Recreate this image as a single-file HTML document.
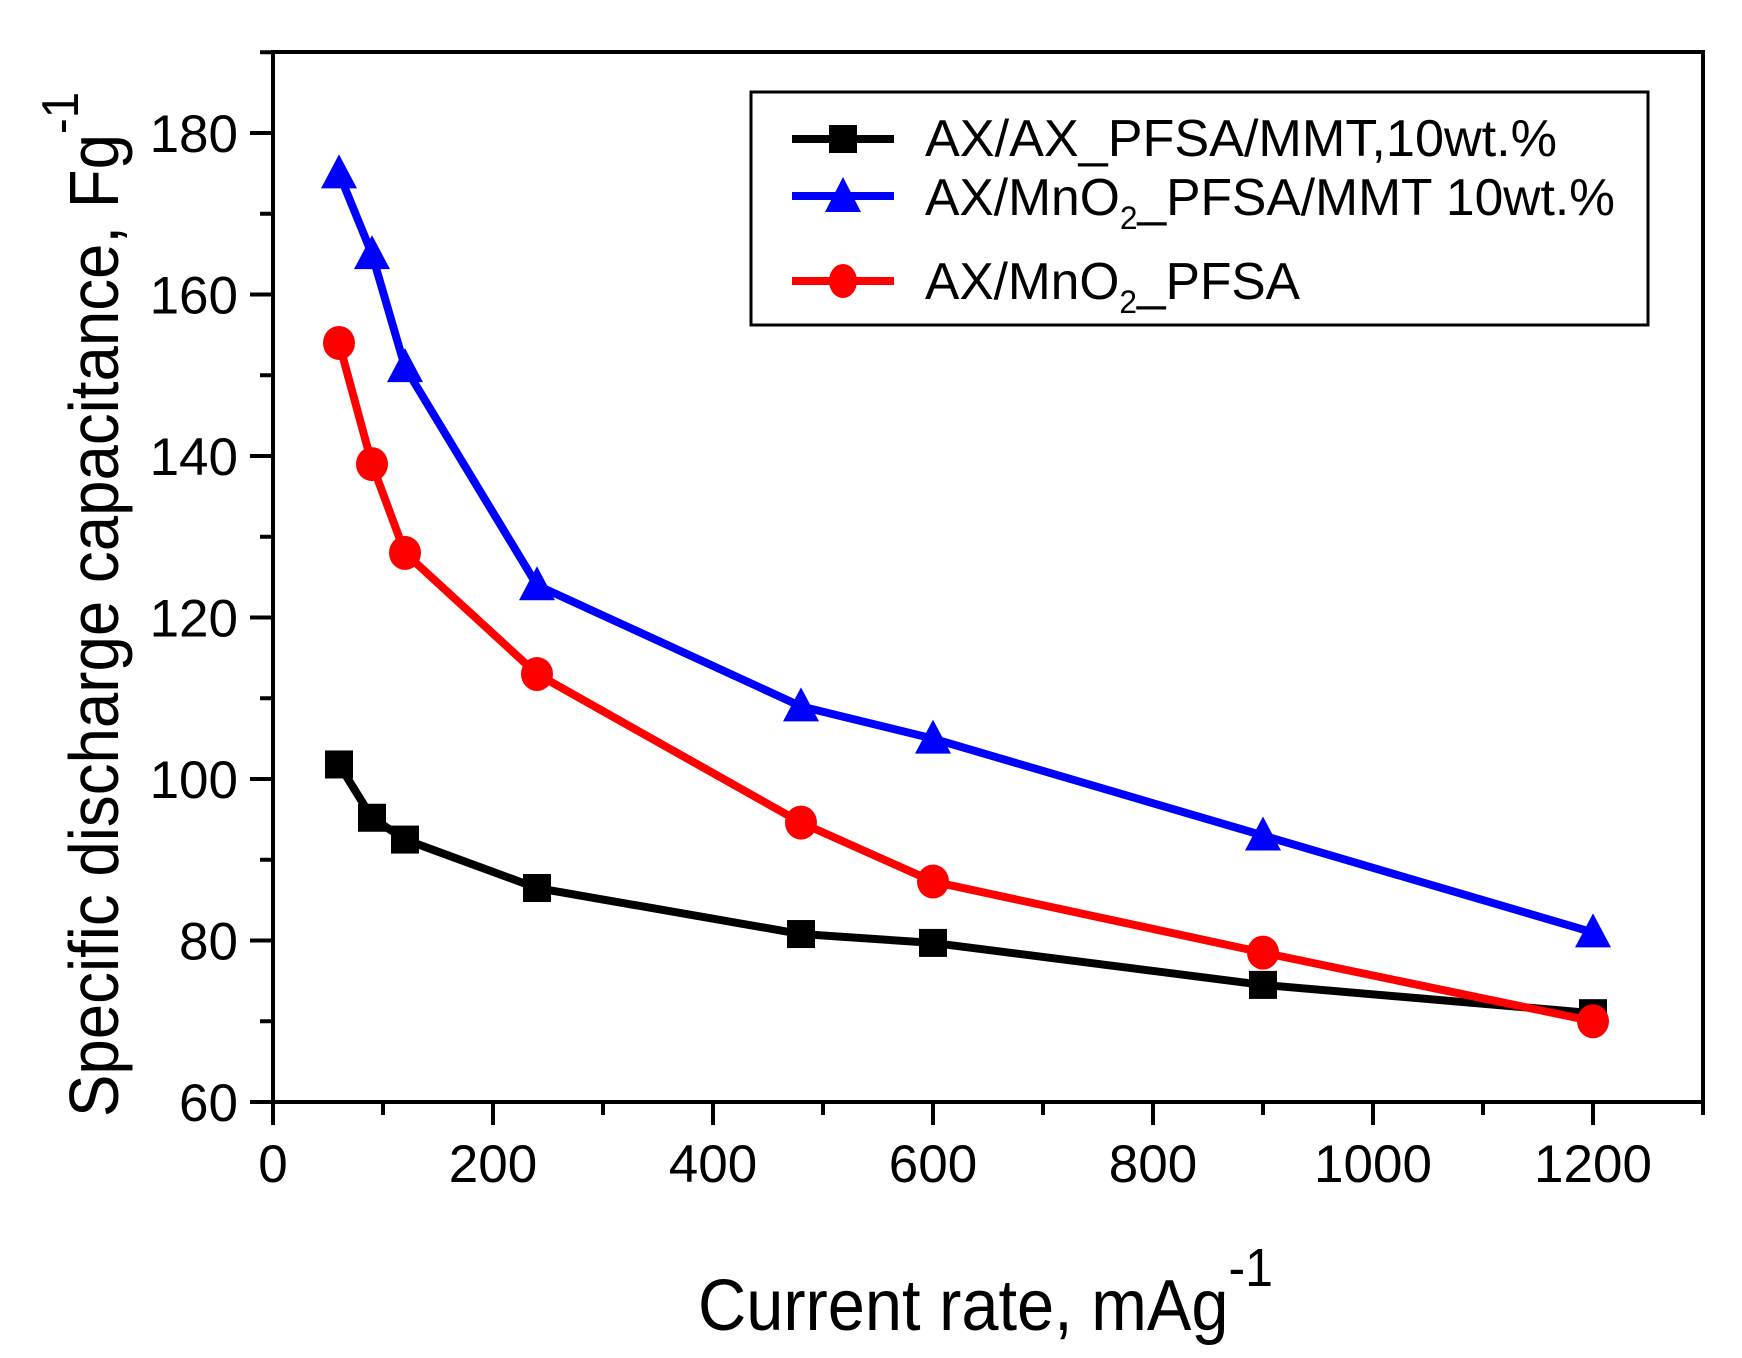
<!DOCTYPE html>
<html><head><meta charset="utf-8"><style>
html,body{margin:0;padding:0;background:#fff;}
svg{display:block;font-family:"Liberation Sans Narrow","Liberation Sans",sans-serif;}
</style></head><body>
<svg id="chart" width="1742" height="1358" viewBox="0 0 1742 1358">
<g id="axes"></g><g id="series"></g>
<g>
<rect x="751" y="92" width="897" height="233" fill="#fff" stroke="#000" stroke-width="3"/>
<g>
<line x1="792" y1="139" x2="894" y2="139" stroke="#000" stroke-width="8"/>
<rect x="829" y="125" width="28" height="28" fill="#000"/>
<text x="925" y="156" font-size="52" textLength="632" lengthAdjust="spacingAndGlyphs">AX/AX_PFSA/MMT,10wt.%</text>
</g>
<g>
<line x1="792" y1="196" x2="894" y2="196" stroke="#00f" stroke-width="8"/>
<polygon points="843,177 861,212 825,212" fill="#00f"/>
<text x="925" y="215" font-size="52" textLength="690" lengthAdjust="spacingAndGlyphs">AX/MnO<tspan font-size="32" dy="14">2</tspan><tspan dy="-14">_PFSA/MMT 10wt.%</tspan></text>
</g>
<g>
<line x1="792" y1="281" x2="894" y2="281" stroke="#f00" stroke-width="8"/>
<ellipse cx="843" cy="281" rx="14" ry="17" fill="#f00"/>
<text x="925" y="299" font-size="52" textLength="375" lengthAdjust="spacingAndGlyphs">AX/MnO<tspan font-size="32" dy="14">2</tspan><tspan dy="-14">_PFSA</tspan></text>
</g>
</g>
<text x="698" y="1330" font-size="72" textLength="575" lengthAdjust="spacingAndGlyphs">Current rate, mAg<tspan font-size="54" dy="-44">-1</tspan></text>
<text transform="translate(118,1117) rotate(-90)" font-size="70" textLength="1025" lengthAdjust="spacingAndGlyphs">Specific discharge capacitance,  Fg<tspan font-size="52" dy="-40">-1</tspan></text>
</svg>
<script>
const xCats = [60, 90, 120, 240, 480, 600, 900, 1200];
const blackVals = [101.8, 95.2, 92.5, 86.5, 80.8, 79.7, 74.5, 71];
const blueVals = [175, 165, 151, 124, 109, 105, 93, 81];
const redVals = [154, 139, 128, 113, 94.6, 87.3, 78.5, 70];
const xTicks = [0, 200, 400, 600, 800, 1000, 1200];
const yTicks = [60, 80, 100, 120, 140, 160, 180];

const NS = "http://www.w3.org/2000/svg";
const X0 = 273, XS = 1.1, Y0 = 1102, YS = 8.075;
const xs = v => X0 + v * XS;
const ys = v => Y0 - (v - 60) * YS;
function mk(tag, attrs, parent) {
  const e = document.createElementNS(NS, tag);
  for (const k in attrs) e.setAttribute(k, attrs[k]);
  parent.appendChild(e);
  return e;
}
const axes = document.getElementById('axes');
const frame = mk('rect', {x: X0, y: 52, width: xs(1300) - X0, height: Y0 - 52, fill: 'none', stroke: '#000', 'stroke-width': 4}, axes);


for (let v = 0; v <= 1300; v += 100) {
  const major = v % 200 === 0;
  const t = mk('line', {x1: xs(v), x2: xs(v), y1: Y0, y2: Y0 + (major ? 23 : 13), stroke: '#000', 'stroke-width': 4}, axes);
  
  
}
xTicks.forEach(v => {
  const t = mk('text', {x: xs(v), y: 1182, 'font-size': 53, 'text-anchor': 'middle'}, axes);
  t.textContent = v;
  
  
});
for (let v = 60; v <= 190; v += 10) {
  const major = v % 20 === 0;
  const t = mk('line', {x1: X0, x2: X0 - (major ? 23 : 13), y1: ys(v), y2: ys(v), stroke: '#000', 'stroke-width': 4}, axes);
  
  
}
yTicks.forEach(v => {
  const t = mk('text', {x: 238, y: ys(v) + 19, 'font-size': 53, 'text-anchor': 'end'}, axes);
  t.textContent = v;
  
  
});
const ser = document.getElementById('series');
function drawSeries(vals, color, shape, name) {
  const g = mk('g', {}, ser);
  
  
  const pts = xCats.map((c, i) => xs(c) + ',' + ys(vals[i])).join(' ');
  const l = mk('polyline', {points: pts, fill: 'none', stroke: color, 'stroke-width': 8, 'stroke-linejoin': 'round'}, g);
  
  
  xCats.forEach((c, i) => {
    const x = xs(c), y = ys(vals[i]);
    let m;
    if (shape === 'square') m = mk('rect', {x: x - 14, y: y - 14, width: 28, height: 28, fill: color}, g);
    else if (shape === 'tri') m = mk('polygon', {points: `${x},${y - 19} ${x + 18},${y + 15} ${x - 18},${y + 15}`, fill: color}, g);
    else m = mk('ellipse', {cx: x, cy: y, rx: 16, ry: 17, fill: color}, g);
    
    
  });
}
drawSeries(blackVals, '#000', 'square', 'series-ax-pfsa-mmt');
drawSeries(redVals, '#f00', 'circle', 'series-mno2-pfsa');
drawSeries(blueVals, '#00f', 'tri', 'series-mno2-pfsa-mmt');
</script>
</body></html>
